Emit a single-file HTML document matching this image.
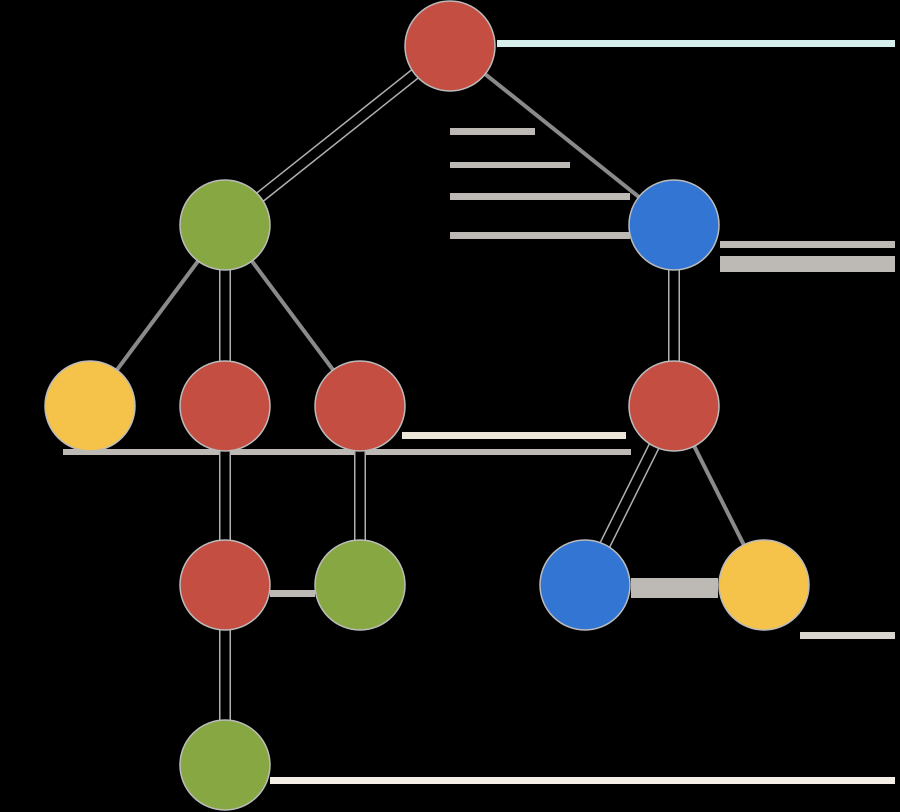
<!DOCTYPE html>
<html><head><style>html,body{margin:0;padding:0;background:#000;}svg{display:block}</style></head>
<body>
<svg width="900" height="812" viewBox="0 0 900 812" xmlns="http://www.w3.org/2000/svg">
<rect width="900" height="812" fill="#000"/>
<g>
<rect x="497" y="40" width="398" height="7" fill="#d6efec"/>
<rect x="450" y="128" width="85" height="7" fill="#bdbab6"/>
<rect x="450" y="162" width="120" height="6" fill="#bdbab6"/>
<rect x="450" y="193" width="180" height="7" fill="#bdbab6"/>
<rect x="450" y="232" width="180" height="7" fill="#bdbab6"/>
<rect x="720" y="241" width="175" height="7" fill="#bdbab6"/>
<rect x="720" y="256" width="175" height="16" fill="#bdbab6"/>
<rect x="402" y="432" width="224" height="7" fill="#ece6d8"/>
<rect x="63" y="449" width="568" height="6" fill="#bdbab6"/>
<rect x="270" y="590" width="45" height="7" fill="#bdbab6"/>
<rect x="631" y="578" width="87" height="20" fill="#bdbab6"/>
<rect x="800" y="632" width="95" height="7" fill="#d8d4cf"/>
<rect x="270" y="777" width="625" height="7" fill="#f3efe6"/>
</g>
<g stroke-linecap="butt">
<g stroke="#b0b0b0" stroke-width="12">
<line x1="450" y1="46" x2="225" y2="225"/>
<line x1="225" y1="225" x2="225" y2="406"/>
<line x1="225" y1="406" x2="225" y2="765"/>
<line x1="360" y1="406" x2="360" y2="585"/>
<line x1="674" y1="225" x2="674" y2="406"/>
<line x1="674" y1="406" x2="585" y2="585"/>
</g>
<g stroke="#000" stroke-width="9">
<line x1="450" y1="46" x2="225" y2="225"/>
<line x1="225" y1="225" x2="225" y2="406"/>
<line x1="225" y1="406" x2="225" y2="765"/>
<line x1="360" y1="406" x2="360" y2="585"/>
<line x1="674" y1="225" x2="674" y2="406"/>
<line x1="674" y1="406" x2="585" y2="585"/>
</g>
<g stroke="#8a8a8a" stroke-width="4">
<line x1="450" y1="46" x2="674" y2="225"/>
<line x1="225" y1="225" x2="90" y2="406"/>
<line x1="225" y1="225" x2="360" y2="406"/>
<line x1="674" y1="406" x2="764" y2="585"/>
</g>
</g>
<g stroke="#bbb" stroke-width="1.5">
<circle cx="450" cy="46" r="45" fill="#c44e42"/>
<circle cx="225" cy="225" r="45" fill="#86a742"/>
<circle cx="674" cy="225" r="45" fill="#3375d3"/>
<circle cx="90" cy="406" r="45" fill="#f5c24a"/>
<circle cx="225" cy="406" r="45" fill="#c44e42"/>
<circle cx="360" cy="406" r="45" fill="#c44e42"/>
<circle cx="674" cy="406" r="45" fill="#c44e42"/>
<circle cx="225" cy="585" r="45" fill="#c44e42"/>
<circle cx="360" cy="585" r="45" fill="#86a742"/>
<circle cx="585" cy="585" r="45" fill="#3375d3"/>
<circle cx="764" cy="585" r="45" fill="#f5c24a"/>
<circle cx="225" cy="765" r="45" fill="#86a742"/>
</g>
</svg>
</body></html>
